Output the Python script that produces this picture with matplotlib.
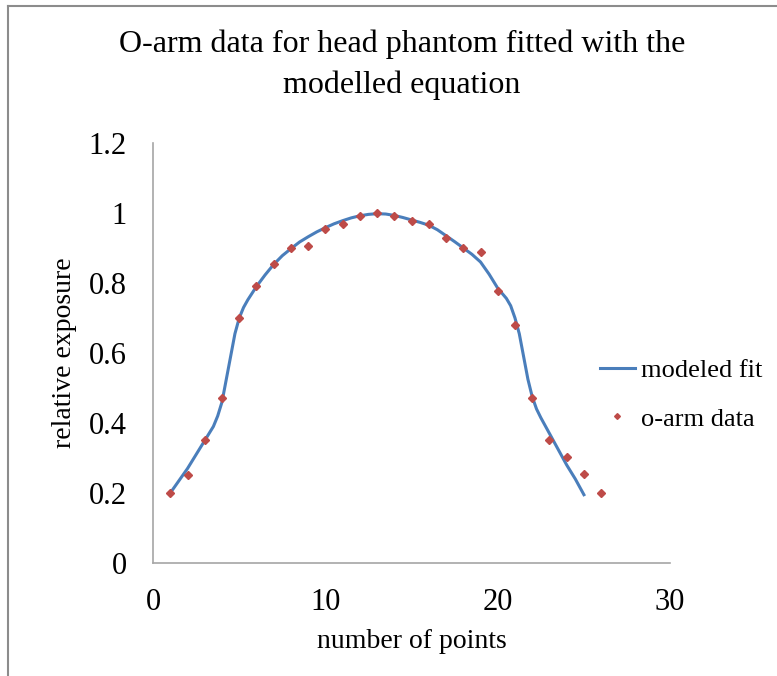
import matplotlib.pyplot as plt
from matplotlib.lines import Line2D

# o-arm measured points
data_x = [1, 2, 3, 4, 5, 6, 7, 8, 9, 10, 11, 12, 13,
          14, 15, 16, 17, 18, 19, 20, 21, 22, 23, 24, 25, 26]
data_y = [0.20, 0.25, 0.35, 0.47, 0.70, 0.79, 0.855, 0.90, 0.905, 0.953, 0.968, 0.99, 1.00,
          0.99, 0.978, 0.968, 0.928, 0.90, 0.888, 0.778, 0.68, 0.47, 0.352, 0.302, 0.254, 0.20]

# modelled fit curve
fit_x = [1, 1.5, 2, 2.5, 3, 3.5, 3.75, 4, 4.25, 4.5, 4.75, 5, 5.25, 5.5, 6, 6.5, 7, 7.5, 8,
         8.5, 9, 9.5, 10, 10.5, 11, 11.5, 12, 12.5, 13, 13.5, 14, 14.5, 15, 15.5, 16, 16.5,
         17, 17.5, 18, 18.5, 19, 19.5, 20, 20.5, 20.75, 21, 21.25, 21.5, 21.75, 22, 22.25,
         22.5, 23, 23.5, 24, 24.5, 25]
fit_y = [0.20, 0.235, 0.27, 0.31, 0.35, 0.39, 0.42, 0.46, 0.525, 0.59, 0.655, 0.70, 0.73,
         0.752, 0.79, 0.823, 0.853, 0.878, 0.898, 0.917, 0.932, 0.946, 0.958, 0.969, 0.978,
         0.986, 0.992, 0.996, 0.998, 0.997, 0.993, 0.987, 0.98, 0.973, 0.965, 0.952, 0.935,
         0.918, 0.90, 0.882, 0.86, 0.825, 0.785, 0.756, 0.735, 0.70, 0.655, 0.59, 0.525,
         0.475, 0.44, 0.415, 0.37, 0.325, 0.28, 0.24, 0.195]

plt.rcParams['font.family'] = 'Liberation Serif'

fig = plt.figure(figsize=(7.77, 6.76), dpi=100)
ax = fig.add_axes([0.197, 0.1672, 0.6654, 0.6213])

ax.plot(fit_x, fit_y, color='#4A7EBB', linewidth=2.2, label='modeled fit')
ax.plot(data_x, data_y, linestyle='none', marker='D', markersize=4.2,
        color='#BE4B48', label='o-arm data')

ax.set_xlim(0, 30)
ax.set_ylim(0, 1.2)
ax.set_xticks([0, 10, 20, 30])
ax.set_yticks([0, 0.2, 0.4, 0.6, 0.8, 1.0, 1.2])
ax.set_yticklabels(['0', '0.2', '0.4', '0.6', '0.8', '1', '1.2'])
ax.tick_params(length=0, labelsize=22)
ax.tick_params(axis='y', pad=19)
ax.tick_params(axis='x', pad=18)

for side in ['top', 'right']:
    ax.spines[side].set_visible(False)
for side in ['left', 'bottom']:
    ax.spines[side].set_color('#A6A6A6')
    ax.spines[side].set_linewidth(1.2)

ax.set_xlabel('number of points', fontsize=20, va='center')
ax.set_ylabel('relative exposure', fontsize=20, va='center')
ax.xaxis.set_label_coords(0.5, -0.186)
ax.yaxis.set_label_coords(-0.172, 0.5)

fig.text(0.517, 0.9046, 'O-arm data for head phantom fitted with the\nmodelled equation',
         ha='center', va='center', fontsize=23, linespacing=1.5)

leg = fig.legend(loc='center left', bbox_to_anchor=(0.741, 0.416), frameon=False,
                 fontsize=19, handlelength=1.36, handletextpad=0.23, labelspacing=0.94,
                 markerscale=0.7)

# chart border (left and top edges visible in the crop)
fig.add_artist(Line2D([8 / 777, 8 / 777], [0, 1 - 6 / 676], transform=fig.transFigure,
                      color='#8C8C8C', linewidth=1.5))
fig.add_artist(Line2D([8 / 777, 1], [1 - 6 / 676, 1 - 6 / 676], transform=fig.transFigure,
                      color='#8C8C8C', linewidth=1.5))

fig.savefig('out.png', dpi=100)
